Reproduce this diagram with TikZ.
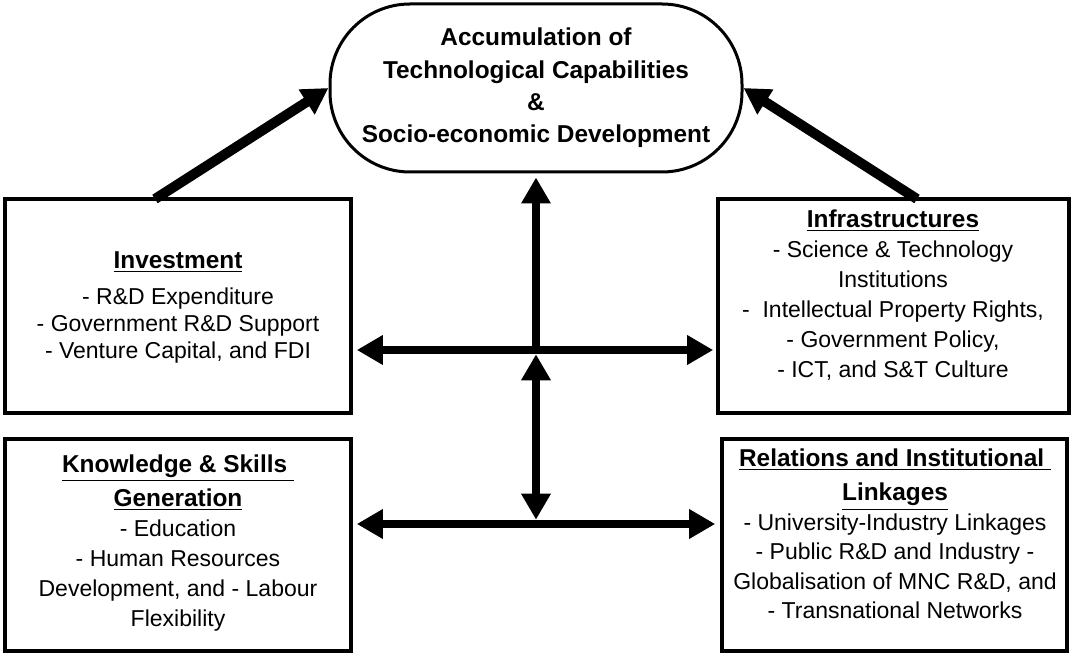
\documentclass[tikz,border=0pt]{standalone}
\usepackage{fontspec}
\setmainfont{Liberation Sans}
\usetikzlibrary{arrows.meta}

\newcommand{\paneltitle}[1]{{\fontsize{12.2pt}{15pt}\selectfont\bfseries\underline{#1}}}

\begin{document}
\begin{tikzpicture}[x=0.5pt,y=-0.5pt,>={Triangle[length=13pt,width=14pt]},
	goal/.style={draw, line width=1.5pt, rounded corners=40pt, minimum width=206pt, minimum height=84pt, align=center, font=\fontsize{12.2pt}{16.2pt}\selectfont\bfseries},
	panel/.style={draw, line width=1.8pt, minimum width=173pt, minimum height=107pt},
	paneltext/.style={align=center, font=\fontsize{11.5pt}{15pt}\selectfont},
	fat/.style={->, line width=5pt},
	link/.style={<->, line width=4.3pt}]

		\useasboundingbox (0,0) rectangle (1073,657);

		% Goal
		\node[goal] (goal) at (536,88) {Accumulation of\\Technological Capabilities\\\&\\Socio-economic Development};

		% Boxes
		\node[panel] (inv) at (178,306) {};
		\node[panel, minimum width=175.5pt] (infra) at (893.5,306) {};
		\node[panel, minimum height=106pt] (know) at (178,545) {};
		\node[panel, minimum width=172.5pt, minimum height=106pt] (rel) at (894.5,545) {};

		% Texts
		\node[paneltext, font=\fontsize{11.5pt}{13.5pt}\selectfont] (invtxt) at (178,307) {\paneltitle{Investment}\\[4.5pt]
			- R\&D Expenditure\\- Government R\&D Support\\- Venture Capital, and FDI};
		\node[paneltext] (infratxt) at (893,295) {\paneltitle{Infrastructures}\\- Science \& Technology\\Institutions\\
			- \ Intellectual Property Rights,\\- Government Policy,\\- ICT, and S\&T Culture};
		\node[paneltext] (knowtxt) at (178,543) {\paneltitle{Knowledge \& Skills\ }\\[2pt]\paneltitle{Generation}\\- Education\\
			- Human Resources\\Development, and - Labour\\Flexibility};
		\node[paneltext, font=\fontsize{11.5pt}{14.75pt}\selectfont] (reltxt) at (895,534) {\paneltitle{Relations and Institutional\ }\\[2.5pt]\paneltitle{Linkages}\\
			- University-Industry Linkages\\- Public R\&D and Industry -\\Globalisation of MNC R\&D, and\\- Transnational Networks};

		% Junctions
		\coordinate (hubA) at (536,350);
		\coordinate (hubB) at (536,524);
		\coordinate (invfoot) at (155,199);
		\coordinate (infrafoot) at (917,199);

		% Arrows
		\draw[fat] (invfoot) -- (goal.west);
		\draw[fat] (infrafoot) -- (goal.east);
		\draw[->, line width=4.3pt, shorten >=2pt] (hubA) -- (goal.south);
		\draw[link, shorten <=2.15pt, shorten >=2.15pt] (hubA) -- (hubB);
		\draw[link, shorten <=2pt, shorten >=1.5pt] (inv.east |- hubA) -- (infra.west |- hubA);
		\draw[link, shorten <=2pt, shorten >=2.5pt] (know.east |- hubB) -- (rel.west |- hubB);
	\end{tikzpicture}
\end{document}
